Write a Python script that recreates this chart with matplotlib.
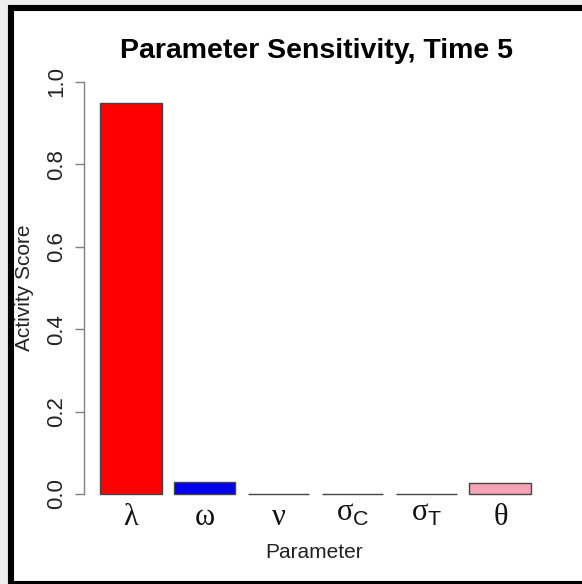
import matplotlib
matplotlib.use("Agg")
import matplotlib.pyplot as plt
from matplotlib.patches import Rectangle
from matplotlib.transforms import ScaledTranslation

params = [r"$\mathrm{\lambda}$", r"$\mathrm{\omega}$", r"$\mathrm{\nu}$",
          r"$\mathrm{\sigma}_{\mathsf{C}}$", r"$\mathrm{\sigma}_{\mathsf{T}}$", r"$\mathrm{\theta}$"]
scores = [0.948, 0.029, 0.001, 0.0, 0.0, 0.026]
colors = ["#ff0000", "#0000ee", "#ffffff", "#ffffff", "#ffffff", "#f7a3b5"]
yticks = [0.0, 0.2, 0.4, 0.6, 0.8, 1.0]

plt.rcParams["font.family"] = "Liberation Sans"
plt.rcParams["mathtext.fontset"] = "custom"
plt.rcParams["mathtext.rm"] = "Liberation Serif"
plt.rcParams["mathtext.sf"] = "Liberation Sans"

W, H = 582, 584
fig = plt.figure(figsize=(W / 100, H / 100), dpi=100, facecolor="#eeeeee")

# white panel with thick black frame (cut off on the right)
fig.patches.append(Rectangle((11 / W, 1 - 583.5 / H), 600 / W, 575.5 / H,
                             transform=fig.transFigure, facecolor="white",
                             edgecolor="black", linewidth=4.4, zorder=-5))

ax = fig.add_axes([84 / W, (H - 510.5) / H, 465 / W, 445 / H])
ax.set_facecolor("none")
ax.set_zorder(2)

# R barplot style: width 1, space 0.2
x = [0.7 + 1.2 * i for i in range(len(scores))]
ax.bar(x, scores, width=1.0, color=colors, edgecolor="#444444", linewidth=1.0)

ax.set_xlim(-0.06, 7.492)
ax.set_ylim(-0.04, 1.04)

for s in ["top", "right", "bottom"]:
    ax.spines[s].set_visible(False)
ax.spines["left"].set_bounds(0, 1)
ax.spines["left"].set_color("#808080")
ax.spines["left"].set_linewidth(1.0)

ax.set_yticks(yticks)
ax.set_yticklabels(["%.1f" % v for v in yticks], rotation=90, va="center")
ax.tick_params(axis="y", length=6.5, width=1.0, color="#808080", pad=5.4,
               labelsize=16, labelcolor="#222222")

ax.set_xticks(x)
ax.set_xticklabels(params)
ax.tick_params(axis="x", length=0, pad=10.4, labelsize=22, labelcolor="#111111")
for i, lbl in enumerate(ax.get_xticklabels()):
    lbl.set_va("baseline")
    if "sigma" in params[i]:
        # R plotmath keeps the subscript near the baseline, sigma sits higher
        lbl.set_transform(lbl.get_transform() +
                          ScaledTranslation(0, 4 / 100, fig.dpi_scale_trans))

ax.set_title("Parameter Sensitivity, Time 5", fontsize=20.5, fontweight="bold", pad=5.4)
ax.set_xlabel("Parameter", fontsize=15, color="#222222")
ax.set_ylabel("Activity Score", fontsize=15, color="#222222")
ax.xaxis.set_label_coords(0.4957, -0.073)
ax.yaxis.set_label_coords(-0.1075, 0.5)

fig.savefig("out.png", dpi=100, facecolor=fig.get_facecolor())
